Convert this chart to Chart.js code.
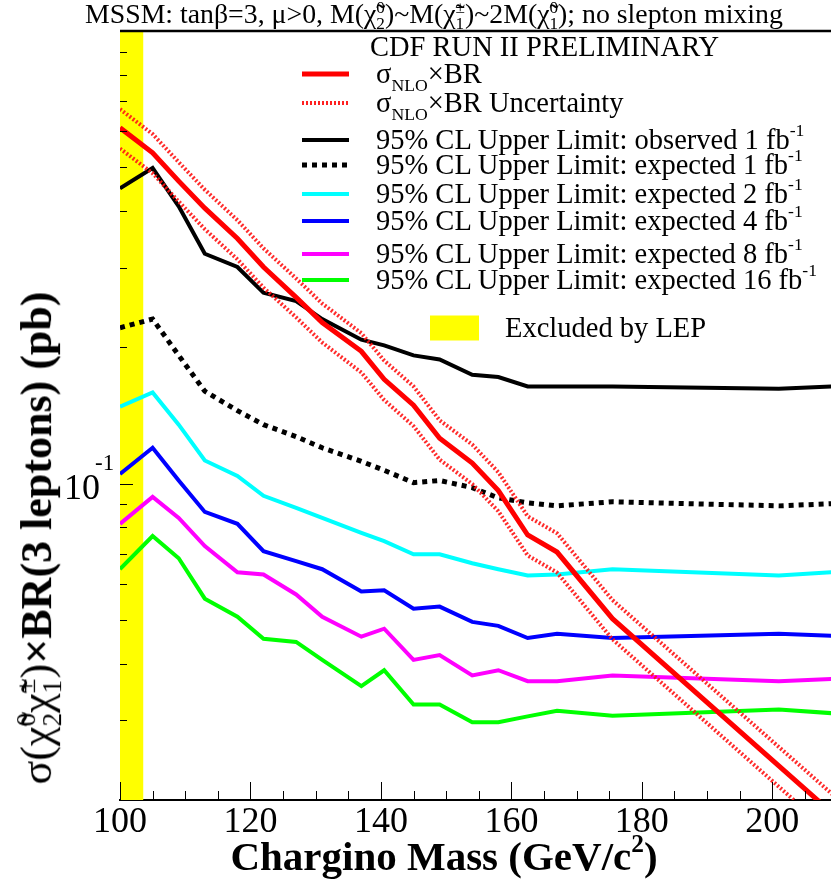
<!DOCTYPE html>
<html>
<head>
<meta charset="utf-8">
<script src="https://cdn.jsdelivr.net/npm/chart.js@4.4.0/dist/chart.umd.min.js"></script>
<style>
  body { margin: 0; background: #fff; }
  #wrap { position: relative; width: 831px; height: 880px; font-family: "Liberation Serif", "DejaVu Serif", serif; color: #000; overflow: hidden; }
  #plot { position: absolute; left: 0; top: 0; }
  .abs { position: absolute; white-space: nowrap; }
  .ss { display: inline-block; vertical-align: -0.35em; font-size: 0.62em; line-height: 0.95; text-align: left; }
  .ss span { display: block; }
  sub { font-size: 0.62em; vertical-align: -0.45em; line-height: 0; }
  sup { font-size: 0.62em; vertical-align: 0.7em; line-height: 0; }
  #title { left: 85px; top: 16px; transform: translateY(-50%); font-size: 27.8px; line-height: 1; }
  #legend { left: 0; top: 0; font-size: 28.5px; }
  .row { position: absolute; left: 376px; transform: translateY(-50%); white-space: nowrap; line-height: 1; }
  .swatch { position: absolute; left: 302px; width: 47px; height: 4px; transform: translateY(-50%); }
  #ytitle { left: 40px; top: 538px; transform: translate(-50%, -50%) rotate(-90deg); font-size: 44px; font-weight: bold; line-height: 1; }
  #ytitle .g { font-weight: normal; }
  #xtitle { left: 444px; top: 856px; transform: translate(-50%, -50%); font-size: 41px; font-weight: bold; line-height: 1; }
</style>
</head>
<body>
<div id="wrap">
  <canvas id="plot" width="831" height="880"></canvas>

  <div id="title" class="abs">MSSM: tanβ=3, μ&gt;0, M(χ̃<span class="ss"><span>0</span><span>2</span></span>)~M(χ̃<span class="ss"><span>±</span><span>1</span></span>)~2M(χ̃<span class="ss"><span>0</span><span>1</span></span>); no slepton mixing</div>

  <div id="legend" class="abs">
    <div class="row" style="top:47px; left:370px;">CDF RUN II PRELIMINARY</div>
    <div class="swatch" style="top:74px; background:#ff0000; height:5px;"></div>
    <div class="row" style="top:74px;">σ<sub>NLO</sub>×BR</div>
    <div class="swatch" style="top:103px; background:repeating-linear-gradient(90deg,#ff2020 0 2px,transparent 2px 4px);"></div>
    <div class="row" style="top:103px;">σ<sub>NLO</sub>×BR Uncertainty</div>
    <div class="swatch" style="top:140px; background:#000;"></div>
    <div class="row" style="top:140px;">95% CL Upper Limit: observed 1 fb<sup>-1</sup></div>
    <div class="swatch" style="top:165px; height:5px; background:repeating-linear-gradient(90deg,#000 0 5px,transparent 5px 10px);"></div>
    <div class="row" style="top:165px;">95% CL Upper Limit: expected 1 fb<sup>-1</sup></div>
    <div class="swatch" style="top:194px; background:#00ffff;"></div>
    <div class="row" style="top:194px;">95% CL Upper Limit: expected 2 fb<sup>-1</sup></div>
    <div class="swatch" style="top:221px; background:#0000ff;"></div>
    <div class="row" style="top:221px;">95% CL Upper Limit: expected 4 fb<sup>-1</sup></div>
    <div class="swatch" style="top:254px; background:#ff00ff;"></div>
    <div class="row" style="top:254px;">95% CL Upper Limit: expected 8 fb<sup>-1</sup></div>
    <div class="swatch" style="top:280px; background:#00ff00;"></div>
    <div class="row" style="top:280px;">95% CL Upper Limit: expected 16 fb<sup>-1</sup></div>
    <div class="swatch" style="top:328px; left:430px; width:49px; height:25px; background:#ffff00;"></div>
    <div class="row" style="top:328px; left:505px;">Excluded by LEP</div>
  </div>

  <div id="ytitle" class="abs"><span class="g">σ(χ̃<span class="ss"><span>0</span><span>2</span></span>χ̃<span class="ss"><span>±</span><span>1</span></span>)</span>×BR(3 leptons) (pb)</div>
  <div id="xtitle" class="abs">Chargino Mass (GeV/c<sup>2</sup>)</div>
</div>

<script>
// chargino mass points (GeV/c^2)
const masses = [100, 105, 109, 113, 118, 122, 127, 131, 137, 140.5, 145, 149, 154, 158, 162.5, 167, 175.5, 201, 209.2];

// theory cross section x BR and its uncertainty band (pb)
const sigmaBR   = [0.611, 0.538, 0.466, 0.406, 0.348, 0.301, 0.258, 0.227, 0.196, 0.170, 0.149, 0.126, 0.111, 0.0965, 0.0770, 0.0706, 0.0503, 0.0238, 0.0187];
const sigmaUp   = [0.672, 0.592, 0.513, 0.446, 0.382, 0.331, 0.284, 0.250, 0.215, 0.187, 0.164, 0.138, 0.122, 0.106, 0.0847, 0.0777, 0.0553, 0.0262, 0.0206];
const sigmaDown = [0.550, 0.485, 0.420, 0.365, 0.313, 0.271, 0.233, 0.205, 0.176, 0.153, 0.134, 0.113, 0.0998, 0.0869, 0.0694, 0.0636, 0.0453, 0.0214, 0.0168];

// 95% CL upper limits (pb)
const observed1  = [0.449, 0.498, 0.410, 0.322, 0.301, 0.264, 0.253, 0.231, 0.208, 0.202, 0.192, 0.188, 0.174, 0.172, 0.164, 0.164, 0.164, 0.162, 0.164];
const expected1  = [0.221, 0.231, 0.192, 0.160, 0.145, 0.135, 0.127, 0.120, 0.112, 0.107, 0.1005, 0.1016, 0.098, 0.093, 0.0907, 0.0893, 0.0912, 0.0893, 0.0903];
const expected2  = [0.148, 0.159, 0.135, 0.1125, 0.104, 0.094, 0.0884, 0.084, 0.0778, 0.0746, 0.0698, 0.0698, 0.0667, 0.0647, 0.0627, 0.063, 0.0647, 0.0627, 0.0637];
const expected4  = [0.105, 0.120, 0.1016, 0.0866, 0.0815, 0.0709, 0.0674, 0.0647, 0.0578, 0.0581, 0.0529, 0.0535, 0.0495, 0.0485, 0.0456, 0.0466, 0.0456, 0.0466, 0.0461];
const expected8  = [0.0815, 0.0935, 0.084, 0.0728, 0.0637, 0.063, 0.0569, 0.0508, 0.0459, 0.0478, 0.0408, 0.0418, 0.0377, 0.0387, 0.0366, 0.0366, 0.0377, 0.0366, 0.037];
const expected16 = [0.0647, 0.0766, 0.0684, 0.0557, 0.0508, 0.0454, 0.0447, 0.0408, 0.0357, 0.0387, 0.0325, 0.0325, 0.0297, 0.0297, 0.0306, 0.0315, 0.0307, 0.0317, 0.0311];

// LEP exclusion region (GeV/c^2)
const lepRange = [100, 103.6];

// axis ranges and tick positions
const xRange = [100, 209];
const yRange = [0.02, 1];
const xMajorTicks = [100, 120, 140, 160, 180, 200];
const xMinorTicks = [105, 110, 115, 125, 130, 135, 145, 150, 155, 165, 170, 175, 185, 190, 195, 205];
const yMajorTicks = [0.1, 1];
const yMinorTicks = [0.02, 0.03, 0.04, 0.05, 0.06, 0.07, 0.08, 0.09, 0.2, 0.3, 0.4, 0.5, 0.6, 0.7, 0.8, 0.9];

const serif = '"Liberation Serif", "DejaVu Serif", serif';

function pts(values) {
    return masses.map((m, i) => ({ x: m, y: values[i] }));
}

function curve(values, color, width, dash) {
    return {
        data: pts(values),
        borderColor: color,
        borderWidth: width,
        borderDash: dash || [],
        pointRadius: 0,
        fill: false,
        tension: 0
    };
}

// inward tick marks, top frame line and the 10^-1 label
const axisDecor = {
    id: 'axisDecor',
    afterDatasetsDraw(chart) {
        const { ctx, chartArea: a, scales: { x, y } } = chart;
        ctx.save();
        ctx.strokeStyle = '#000';
        ctx.lineWidth = 1;
        ctx.beginPath();
        xMajorTicks.forEach(v => {
            const px = Math.round(x.getPixelForValue(v)) + 0.5;
            ctx.moveTo(px, a.bottom); ctx.lineTo(px, a.bottom - 18);
        });
        xMinorTicks.forEach(v => {
            const px = Math.round(x.getPixelForValue(v)) + 0.5;
            ctx.moveTo(px, a.bottom); ctx.lineTo(px, a.bottom - 9);
        });
        yMajorTicks.forEach(v => {
            const py = Math.round(y.getPixelForValue(v)) + 0.5;
            ctx.moveTo(a.left, py); ctx.lineTo(a.left + 13, py);
        });
        yMinorTicks.forEach(v => {
            const py = Math.round(y.getPixelForValue(v)) + 0.5;
            ctx.moveTo(a.left, py); ctx.lineTo(a.left + 7, py);
        });
        ctx.stroke();

        ctx.lineWidth = 2.5;
        ctx.beginPath();
        ctx.moveTo(a.left, a.top); ctx.lineTo(a.right, a.top);
        ctx.stroke();

        const py = y.getPixelForValue(0.1);
        ctx.fillStyle = '#000';
        ctx.textBaseline = 'alphabetic';
        ctx.textAlign = 'left';
        ctx.font = '36px ' + serif;
        ctx.fillText('10', 64, py + 15);
        ctx.font = '23px ' + serif;
        ctx.fillText('-1', 95, py - 14);
        ctx.restore();
    }
};

new Chart(document.getElementById('plot'), {
    type: 'line',
    data: {
        datasets: [
            curve(sigmaBR, '#ff0000', 5),
            curve(sigmaUp, 'rgba(255,20,20,0.9)', 4, [2, 2]),
            curve(sigmaDown, 'rgba(255,20,20,0.9)', 4, [2, 2]),
            curve(observed1, '#000000', 4),
            curve(expected1, '#000000', 5, [5, 5]),
            curve(expected2, '#00ffff', 4),
            curve(expected4, '#0000ff', 4),
            curve(expected8, '#ff00ff', 4),
            curve(expected16, '#00ff00', 4),
            {
                data: [{ x: lepRange[0], y: yRange[1] }, { x: lepRange[1], y: yRange[1] }],
                borderWidth: 0,
                pointRadius: 0,
                backgroundColor: '#ffff00',
                fill: 'start'
            }
        ]
    },
    options: {
        responsive: false,
        animation: false,
        devicePixelRatio: 1,
        layout: { padding: { top: 31, right: 0, left: 0, bottom: 0 } },
        plugins: { legend: { display: false }, tooltip: { enabled: false } },
        scales: {
            x: {
                type: 'linear',
                min: xRange[0],
                max: xRange[1],
                grid: { display: false, drawTicks: false },
                border: { display: true, color: '#000', width: 2 },
                ticks: {
                    stepSize: 20,
                    includeBounds: false,
                    color: '#000',
                    padding: 1,
                    maxRotation: 0,
                    font: { family: serif, size: 36 }
                },
                afterFit(scale) { scale.height = 80; }
            },
            y: {
                type: 'logarithmic',
                min: yRange[0],
                max: yRange[1],
                grid: { display: false, drawTicks: false },
                border: { display: true, color: '#000', width: 1 },
                ticks: { display: false },
                afterFit(scale) { scale.width = 120; }
            }
        }
    },
    plugins: [axisDecor]
});
</script>
</body>
</html>
